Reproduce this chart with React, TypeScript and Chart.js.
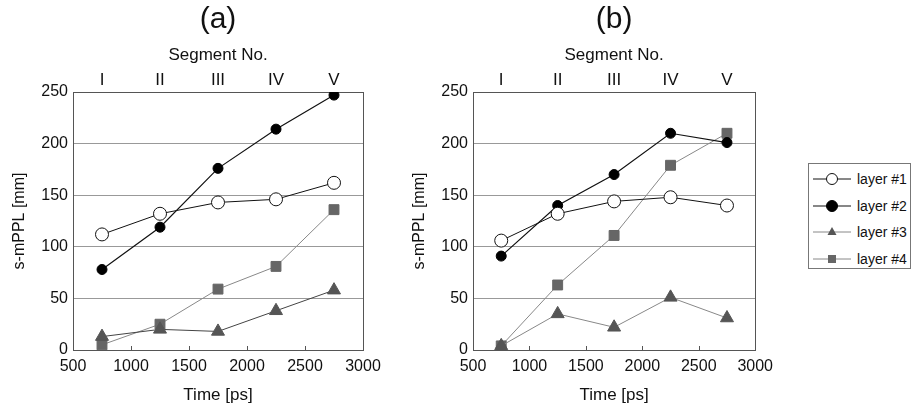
import React, { useEffect, useRef } from "react";
import { Chart, registerables } from "chart.js";

Chart.register(...registerables);

const FONT = "'Liberation Sans', Arial, Helvetica, sans-serif";

// shared categories
const times = [750, 1250, 1750, 2250, 2750];
const segmentLabels = ["I", "II", "III", "IV", "V"];
const seriesNames = ["layer #1", "layer #2", "layer #3", "layer #4"];
const innerXTicks = [1000, 1500, 2000, 2500];

// panel (a)
const a_layer1 = [112, 132, 143, 146, 162];
const a_layer2 = [78, 119, 176, 214, 247];
const a_layer3 = [13, 20, 18, 38, 58];
const a_layer4 = [5, 25, 59, 81, 136];

// panel (b)
const b_layer1 = [106, 132, 144, 148, 140];
const b_layer2 = [91, 140, 170, 210, 201];
const b_layer3 = [4, 35, 22, 51, 31];
const b_layer4 = [4, 63, 111, 179, 210];

type Style = {
  line: string;
  fill: string;
  stroke: string;
  shape: "circle" | "triangle" | "rect";
  radius: number;
  width: number;
};

const baseStyles: Style[] = [
  { line: "#111", fill: "#fff", stroke: "#111", shape: "circle", radius: 6.5, width: 1 },
  { line: "#111", fill: "#000", stroke: "#000", shape: "circle", radius: 5, width: 1.2 },
  { line: "#555", fill: "#555", stroke: "#555", shape: "triangle", radius: 7.5, width: 1 },
  { line: "#888", fill: "#666", stroke: "#666", shape: "rect", radius: 7, width: 1 },
];

const boxPlugin = {
  id: "boxPlugin",
  beforeDatasetsDraw(chart: any) {
    const { ctx, chartArea } = chart;
    const xs = chart.scales.x;
    ctx.save();
    ctx.strokeStyle = "#555";
    ctx.lineWidth = 1;
    ctx.strokeRect(
      Math.round(chartArea.left) + 0.5,
      Math.round(chartArea.top) + 0.5,
      Math.round(chartArea.right - chartArea.left),
      Math.round(chartArea.bottom - chartArea.top)
    );
    ctx.beginPath();
    for (const v of innerXTicks) {
      const px = Math.round(xs.getPixelForValue(v)) + 0.5;
      ctx.moveTo(px, chartArea.bottom);
      ctx.lineTo(px, chartArea.bottom - 4);
    }
    ctx.stroke();
    ctx.restore();
  },
};

const panelTitlePlugin = {
  id: "panelTitle",
  afterDraw(chart: any, _args: any, opts: any) {
    const { ctx, chartArea } = chart;
    ctx.save();
    ctx.fillStyle = "#111";
    ctx.font = `30px ${FONT}`;
    ctx.textAlign = "center";
    ctx.textBaseline = "middle";
    ctx.fillText(opts.text, (chartArea.left + chartArea.right) / 2, 20);
    ctx.restore();
  },
};

function Panel(props: {
  title: string;
  series: number[][];
  width: number;
  rightPad: number;
  layer3Line: string;
}) {
  const ref = useRef<HTMLCanvasElement | null>(null);
  useEffect(() => {
    if (!ref.current) return;
    const styles = baseStyles.map((s, i) => (i === 2 ? { ...s, line: props.layer3Line } : s));
    const datasets = props.series.map((vals, i) => {
      const s = styles[i];
      return {
        label: seriesNames[i],
        data: times.map((t, k) => ({ x: t, y: vals[k] })),
        borderColor: s.line,
        borderWidth: s.width,
        backgroundColor: s.fill,
        pointBackgroundColor: s.fill,
        pointBorderColor: s.stroke,
        pointBorderWidth: 1,
        pointStyle: s.shape,
        pointRadius: s.radius,
        tension: 0,
        fill: false,
      };
    });
    const textColor = "#111";
    const chart = new Chart(ref.current, {
      type: "line",
      data: { datasets: datasets as any },
      plugins: [boxPlugin, panelTitlePlugin],
      options: {
        animation: false,
        responsive: false,
        layout: { padding: { left: 0, right: props.rightPad, top: 32, bottom: 0 } },
        plugins: {
          legend: { display: false },
          tooltip: { enabled: false },
          title: { display: false },
          panelTitle: { text: props.title },
        },
        scales: {
          x: {
            type: "linear",
            position: "bottom",
            min: 500,
            max: 3000,
            ticks: {
              stepSize: 500,
              color: textColor,
              font: { family: FONT, size: 16 },
              padding: 7,
              maxRotation: 0,
              callback: (v: any) => String(v),
            },
            grid: { display: false, drawTicks: false },
            border: { display: false },
            title: {
              display: true,
              text: "Time [ps]",
              color: textColor,
              font: { family: FONT, size: 17, lineHeight: 1 },
              padding: { top: 0, bottom: 7.5 },
            },
            afterFit: (s: any) => {
              s.height = 61;
            },
          },
          x2: {
            type: "linear",
            position: "top",
            min: 500,
            max: 3000,
            afterBuildTicks: (s: any) => {
              s.ticks = times.map((v) => ({ value: v }));
            },
            ticks: {
              autoSkip: false,
              maxRotation: 0,
              color: textColor,
              font: { family: FONT, size: 17 },
              padding: 1,
              callback: (_v: any, i: number) => segmentLabels[i],
            },
            grid: { display: false, drawTicks: false },
            border: { display: false },
            title: {
              display: true,
              text: "Segment No.",
              color: textColor,
              font: { family: FONT, size: 17, lineHeight: 1 },
              padding: { top: 14.5, bottom: 0 },
            },
            afterFit: (s: any) => {
              s.height = 60;
            },
          },
          y: {
            min: 0,
            max: 250,
            ticks: {
              stepSize: 50,
              color: textColor,
              font: { family: FONT, size: 16 },
              padding: 5,
            },
            grid: {
              drawTicks: false,
              lineWidth: 1,
              color: (ctx: any) =>
                ctx.tick && (ctx.tick.value === 0 || ctx.tick.value === 250)
                  ? "rgba(0,0,0,0)"
                  : "#999",
            },
            border: { display: false },
            title: {
              display: true,
              text: "s-mPPL [mm]",
              color: textColor,
              font: { family: FONT, size: 16, lineHeight: 1 },
              padding: { top: 12, bottom: 0 },
            },
            afterFit: (s: any) => {
              s.width = 73;
            },
          },
        },
      } as any,
    });
    return () => chart.destroy();
  }, []);
  return (
    <canvas
      ref={ref}
      width={props.width}
      height={411}
      style={{ display: "block", width: props.width, height: 411 }}
    />
  );
}

function LegendMarker({ s }: { s: Style }) {
  const cx = 19;
  const cy = 7;
  let marker: React.ReactNode = null;
  if (s.shape === "circle") {
    marker = <circle cx={cx} cy={cy} r={5.5} fill={s.fill} stroke={s.stroke} strokeWidth={1} />;
  } else if (s.shape === "triangle") {
    marker = <polygon points={`${cx},${cy - 5} ${cx + 4.5},${cy + 3} ${cx - 4.5},${cy + 3}`} fill={s.fill} />;
  } else {
    marker = <rect x={cx - 4} y={cy - 4} width={8} height={8} fill={s.fill} />;
  }
  return (
    <svg width={38} height={14} style={{ display: "block" }}>
      <line x1={0} y1={cy} x2={38} y2={cy} stroke={s.shape === "circle" ? s.line : "#888"} strokeWidth={s.width} />
      {marker}
    </svg>
  );
}

function Legend() {
  const styles = baseStyles.map((s, i) => (i === 2 ? { ...s, line: "#888" } : s));
  return (
    <div
      style={{
        position: "absolute",
        left: 808,
        top: 163,
        width: 103,
        height: 106,
        border: "1px solid #777",
        boxSizing: "border-box",
        background: "#fff",
      }}
    >
      {seriesNames.map((name, i) => (
        <div
          key={name}
          style={{
            position: "absolute",
            left: 4,
            top: 7 + i * 26.6,
            height: 16,
            display: "flex",
            alignItems: "center",
          }}
        >
          <LegendMarker s={styles[i]} />
          <span
            style={{
              marginLeft: 6,
              fontFamily: FONT,
              fontSize: 14,
              color: "#111",
              lineHeight: "16px",
              whiteSpace: "nowrap",
            }}
          >
            {name}
          </span>
        </div>
      ))}
    </div>
  );
}

export default function App() {
  return (
    <div
      style={{
        position: "absolute",
        left: 0,
        top: 0,
        width: 912,
        height: 411,
        background: "#fff",
        overflow: "hidden",
      }}
    >
      <div style={{ position: "absolute", left: 0, top: 0 }}>
        <Panel
          title="(a)"
          series={[a_layer1, a_layer2, a_layer3, a_layer4]}
          width={400}
          rightPad={37}
          layer3Line="#444"
        />
      </div>
      <div style={{ position: "absolute", left: 400, top: 0 }}>
        <Panel
          title="(b)"
          series={[b_layer1, b_layer2, b_layer3, b_layer4]}
          width={380}
          rightPad={20}
          layer3Line="#888"
        />
      </div>
      <Legend />
    </div>
  );
}
